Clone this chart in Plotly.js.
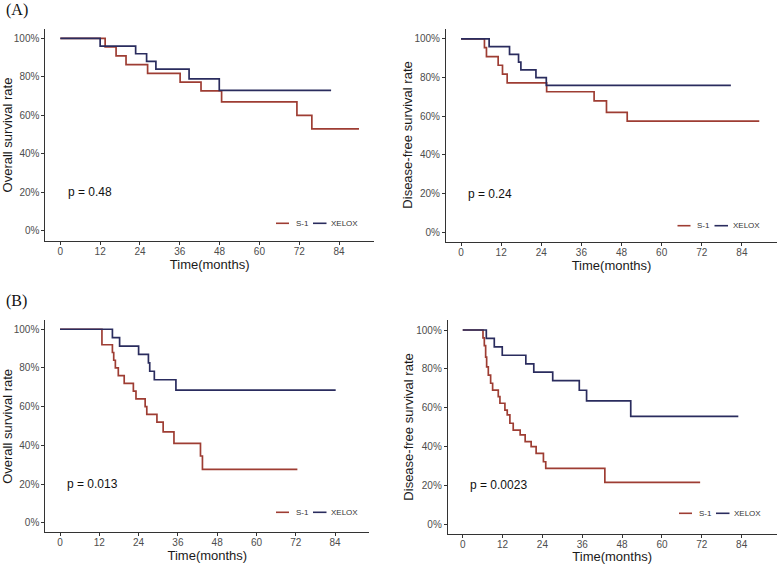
<!DOCTYPE html>
<html><head><meta charset="utf-8">
<script src="https://cdn.plot.ly/plotly-3.0.1.min.js"></script>
<style>html,body{margin:0;padding:0;background:#fff}#chart{width:778px;height:564px}</style>
</head><body><div id="chart"></div>
<script>
// ---------- data ----------
const X_TICKS = [0, 12, 24, 36, 48, 60, 72, 84];
const Y_TICKS = [0, 0.2, 0.4, 0.6, 0.8, 1.0];
const Y_TICK_LABELS = ['0%', '20%', '40%', '60%', '80%', '100%'];
const GROUPS = ['S-1', 'XELOX'];
const PANEL_LABELS = ['(A)', '(B)'];
const Y_TITLES = ['Overall survival rate', 'Disease-free survival rate', 'Overall survival rate', 'Disease-free survival rate'];
const X_TITLE = 'Time(months)';
const P_VALUES = ['p = 0.48', 'p = 0.24', 'p = 0.013', 'p = 0.0023'];

// (A) overall survival
const A_OS_S1_time = [0, 13.5, 16.8, 19.8, 26.3, 36.1, 42.4, 48.6, 71.3, 75.8];
const A_OS_S1_surv = [1, 0.955, 0.909, 0.864, 0.818, 0.773, 0.727, 0.67, 0.60, 0.53];
const A_OS_S1_end = 90;
const A_OS_XE_time = [0, 12.0, 22.7, 26.0, 28.8, 38.8, 47.9];
const A_OS_XE_surv = [1, 0.96, 0.92, 0.88, 0.84, 0.79, 0.73];
const A_OS_XE_end = 81.6;
// (A) disease-free survival
const A_DFS_S1_time = [0, 7.0, 7.6, 11.1, 12.4, 13.8, 25.6, 39.8, 43.5, 49.7];
const A_DFS_S1_surv = [1, 0.955, 0.909, 0.864, 0.818, 0.773, 0.727, 0.68, 0.62, 0.575];
const A_DFS_S1_end = 89.2;
const A_DFS_XE_time = [0, 8.4, 14.5, 17.2, 17.9, 22.4, 25.5];
const A_DFS_XE_surv = [1, 0.96, 0.92, 0.88, 0.84, 0.80, 0.76];
const A_DFS_XE_end = 80.7;
// (B) overall survival
const B_OS_S1_time = [0, 12.8, 16.0, 16.4, 16.9, 17.8, 19.6, 22.4, 23.2, 26.0, 26.5, 29.6, 31.5, 34.8, 42.9, 43.5];
const B_OS_S1_surv = [1, 0.92, 0.88, 0.84, 0.80, 0.76, 0.72, 0.68, 0.64, 0.60, 0.56, 0.52, 0.47, 0.41, 0.345, 0.276];
const B_OS_S1_end = 72.5;
const B_OS_XE_time = [0, 16.0, 18.2, 24.0, 27.0, 27.4, 28.8, 35.4];
const B_OS_XE_surv = [1, 0.957, 0.913, 0.87, 0.826, 0.783, 0.739, 0.685];
const B_OS_XE_end = 84.2;
// (B) disease-free survival
const B_DFS_S1_time = [0, 6.1, 6.5, 6.9, 7.2, 7.7, 8.4, 9.0, 10.7, 11.2, 12.7, 13.4, 14.2, 15.2, 17.3, 18.8, 20.6, 22.1, 24.3, 25.0, 42.8];
const B_DFS_S1_surv = [1, 0.96, 0.92, 0.86, 0.81, 0.768, 0.726, 0.691, 0.657, 0.623, 0.588, 0.563, 0.52, 0.485, 0.46, 0.425, 0.40, 0.365, 0.322, 0.288, 0.216];
const B_DFS_S1_end = 71.5;
const B_DFS_XE_time = [0, 7.1, 9.5, 11.9, 19.0, 21.4, 27.1, 35.1, 37.3, 50.6];
const B_DFS_XE_surv = [1, 0.957, 0.913, 0.87, 0.826, 0.783, 0.739, 0.69, 0.635, 0.555];
const B_DFS_XE_end = 83.0;

// ---------- styling / layout ----------
const W = 778, H = 564;
const RED = '#9E3D33', NAVY = '#2A2C5E';
const FONT = 'Liberation Sans, Arial, sans-serif';
const px = v => v / W, py = v => 1 - v / H;

// pixel boxes of the four plot areas [left, right, top, bottom]
const BOXES = [
  [45.4, 373.9, 28.7, 240.6],
  [446.0, 777.0, 29.3, 242.0],
  [45.3, 369.4, 319.6, 532.4],
  [447.8, 776.5, 320.3, 534.0]
];
const PANELS = [
  [A_OS_S1_time, A_OS_S1_surv, A_OS_S1_end, A_OS_XE_time, A_OS_XE_surv, A_OS_XE_end],
  [A_DFS_S1_time, A_DFS_S1_surv, A_DFS_S1_end, A_DFS_XE_time, A_DFS_XE_surv, A_DFS_XE_end],
  [B_OS_S1_time, B_OS_S1_surv, B_OS_S1_end, B_OS_XE_time, B_OS_XE_surv, B_OS_XE_end],
  [B_DFS_S1_time, B_DFS_S1_surv, B_DFS_S1_end, B_DFS_XE_time, B_DFS_XE_surv, B_DFS_XE_end]
];
// legend key start x (px) and y (px) for each panel
const LEG = [[276, 223.3], [677.5, 225.7], [276, 512.3], [679, 513.3]];
// y-title centre x (px)
const YT_X = [7.8, 408, 7.8, 408.5];

function step(t, s, end) { return { x: t.concat([end]), y: s.concat([s[s.length - 1]]) }; }

const traces = [];
const layout = {
  width: W, height: H, margin: { l: 0, r: 0, t: 0, b: 0 },
  paper_bgcolor: '#fff', plot_bgcolor: '#fff', showlegend: false,
  font: { family: FONT, color: '#222' },
  annotations: [], shapes: []
};

PANELS.forEach((p, i) => {
  const n = i === 0 ? '' : String(i + 1);
  const xa = 'x' + n, ya = 'y' + n;
  const a = step(p[0], p[1], p[2]);
  const b = step(p[3], p[4], p[5]);
  traces.push({ x: a.x, y: a.y, xaxis: xa, yaxis: ya, type: 'scatter', mode: 'lines', name: GROUPS[0],
    line: { shape: 'hv', color: RED, width: 1.7 }, hoverinfo: 'skip' });
  traces.push({ x: b.x, y: b.y, xaxis: xa, yaxis: ya, type: 'scatter', mode: 'lines', name: GROUPS[1],
    line: { shape: 'hv', color: NAVY, width: 1.7 }, hoverinfo: 'skip' });
  const bx = BOXES[i];
  layout['xaxis' + n] = {
    domain: [px(bx[0]), px(bx[1])], anchor: ya, range: [-4.5, 94.5],
    tickmode: 'array', tickvals: X_TICKS, ticktext: X_TICKS.map(String),
    showgrid: false, zeroline: false, showline: true, linecolor: '#333', linewidth: 1,
    ticks: 'outside', ticklen: 3, tickcolor: '#333', tickwidth: 1,
    ticklabelstandoff: -2,
    tickfont: { size: 10, color: '#4D4D4D', family: FONT },
    title: { text: X_TITLE, font: { size: 13, color: '#1a1a1a', family: FONT }, standoff: 2 },
    fixedrange: true
  };
  layout['yaxis' + n] = {
    domain: [py(bx[3]), py(bx[2])], anchor: xa, range: [-0.05, 1.05],
    tickmode: 'array', tickvals: Y_TICKS, ticktext: Y_TICK_LABELS,
    showgrid: false, zeroline: false, showline: true, linecolor: '#333', linewidth: 1,
    ticks: 'outside', ticklen: 3, tickcolor: '#333', tickwidth: 1,
    tickfont: { size: 10, color: '#4D4D4D', family: FONT },
    fixedrange: true
  };
  // y-axis title
  layout.annotations.push({ xref: 'paper', yref: 'paper', x: px(YT_X[i]), y: (py(bx[2]) + py(bx[3])) / 2,
    xanchor: 'center', yanchor: 'middle', textangle: -90, text: Y_TITLES[i], showarrow: false,
    font: { size: 13, color: '#1a1a1a', family: FONT } });
  // p-value
  layout.annotations.push({ xref: xa, yref: ya, x: 1.6, y: 0.2, xanchor: 'left', yanchor: 'middle',
    text: P_VALUES[i], showarrow: false, font: { size: 12, color: '#111', family: FONT } });
  // legend (keys + labels)
  const lx = LEG[i][0], ly = LEG[i][1];
  layout.shapes.push({ type: 'line', xref: 'paper', yref: 'paper', x0: px(lx), x1: px(lx + 13), y0: py(ly), y1: py(ly),
    line: { color: RED, width: 1.6 } });
  layout.shapes.push({ type: 'line', xref: 'paper', yref: 'paper', x0: px(lx + 37), x1: px(lx + 50.5), y0: py(ly), y1: py(ly),
    line: { color: NAVY, width: 1.6 } });
  layout.annotations.push({ xref: 'paper', yref: 'paper', x: px(lx + 17.5), y: py(ly), xanchor: 'left', yanchor: 'middle',
    text: GROUPS[0], showarrow: false, font: { size: 8, color: '#333', family: FONT } });
  layout.annotations.push({ xref: 'paper', yref: 'paper', x: px(lx + 53), y: py(ly), xanchor: 'left', yanchor: 'middle',
    text: GROUPS[1], showarrow: false, font: { size: 8, color: '#333', family: FONT } });
});

// panel labels
const SERIF = 'Liberation Serif, Times New Roman, serif';
layout.annotations.push({ xref: 'paper', yref: 'paper', x: px(4), y: py(10), xanchor: 'left', yanchor: 'middle',
  text: PANEL_LABELS[0], showarrow: false, font: { size: 16, color: '#111', family: SERIF } });
layout.annotations.push({ xref: 'paper', yref: 'paper', x: px(4), y: py(300.5), xanchor: 'left', yanchor: 'middle',
  text: PANEL_LABELS[1], showarrow: false, font: { size: 16, color: '#111', family: SERIF } });

Plotly.newPlot('chart', traces, layout, { staticPlot: true, displayModeBar: false });
</script></body></html>
